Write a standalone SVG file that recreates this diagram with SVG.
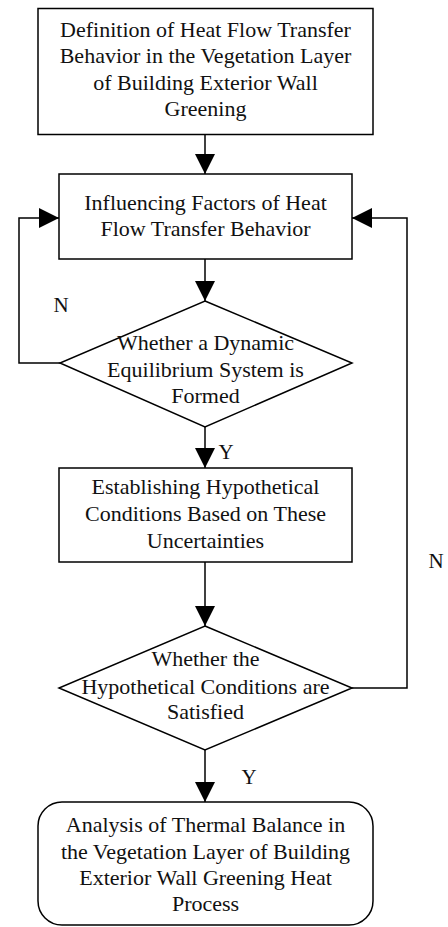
<svg xmlns="http://www.w3.org/2000/svg" width="448" height="927" viewBox="0 0 448 927">
<defs>
<style>
.box{fill:#fff;stroke:#000;stroke-width:1.5}
.t{font-family:"Liberation Serif","Times New Roman",serif;font-size:22px;fill:#111;text-anchor:middle}
.lbl{font-family:"Liberation Serif","Times New Roman",serif;font-size:21px;fill:#111;text-anchor:middle}
.c{fill:none;stroke:#000;stroke-width:1.5}
</style>
<marker id="ah" viewBox="0 0 20 20" refX="20" refY="10" markerWidth="20" markerHeight="20" markerUnits="userSpaceOnUse" orient="auto">
<path d="M0,0 L20,10 L0,20 Z" fill="#000"/>
</marker>
</defs>
<rect width="448" height="927" fill="#fff"/>
<g id="connectors">
<line class="c" x1="205" y1="134" x2="205" y2="174" marker-end="url(#ah)"/>
<line class="c" x1="205" y1="259" x2="205" y2="301" marker-end="url(#ah)"/>
<polyline class="c" points="60,363 19,363 19,218 59,218" marker-end="url(#ah)"/>
<line class="c" x1="205" y1="427" x2="205" y2="468" marker-end="url(#ah)"/>
<line class="c" x1="205" y1="562" x2="205" y2="626" marker-end="url(#ah)"/>
<polyline class="c" points="352,688 407,688 407,218 352,218" marker-end="url(#ah)"/>
<line class="c" x1="205" y1="750" x2="205" y2="802" marker-end="url(#ah)"/>
<text class="lbl" x="61" y="312">N</text>
<text class="lbl" x="436" y="568">N</text>
<text class="lbl" x="226" y="459">Y</text>
<text class="lbl" x="249" y="784">Y</text>
</g>
<g id="n1">
<rect class="box" x="38" y="8.5" width="335" height="126"/>
<text class="t" x="205.5" y="37">Definition of Heat Flow Transfer</text>
<text class="t" x="205.5" y="63">Behavior in the Vegetation Layer</text>
<text class="t" x="205.5" y="90">of Building Exterior Wall</text>
<text class="t" x="205.5" y="116">Greening</text>
</g>
<g id="n2">
<rect class="box" x="59" y="174" width="293" height="85"/>
<text class="t" x="205.5" y="210">Influencing Factors of Heat</text>
<text class="t" x="205.5" y="236">Flow Transfer Behavior</text>
</g>
<g id="n3">
<polygon class="box" points="205,301 352,363 205,427 60,363"/>
<text class="t" x="205.5" y="350">Whether a Dynamic</text>
<text class="t" x="205.5" y="377">Equilibrium System is</text>
<text class="t" x="205.5" y="403">Formed</text>
</g>
<g id="n4">
<rect class="box" x="59" y="468" width="293" height="94"/>
<text class="t" x="205.5" y="494">Establishing Hypothetical</text>
<text class="t" x="205.5" y="521">Conditions Based on These</text>
<text class="t" x="205.5" y="548">Uncertainties</text>
</g>
<g id="n5">
<polygon class="box" points="205,626 352,688 205,750 59,688"/>
<text class="t" x="205.5" y="666">Whether the</text>
<text class="t" x="205.5" y="694">Hypothetical Conditions are</text>
<text class="t" x="205.5" y="719">Satisfied</text>
</g>
<g id="n6">
<rect class="box" x="38" y="802" width="335" height="123" rx="24" ry="24"/>
<text class="t" x="205.5" y="832">Analysis of Thermal Balance in</text>
<text class="t" x="205.5" y="859">the Vegetation Layer of Building</text>
<text class="t" x="205.5" y="885">Exterior Wall Greening Heat</text>
<text class="t" x="205.5" y="911">Process</text>
</g>
</svg>
